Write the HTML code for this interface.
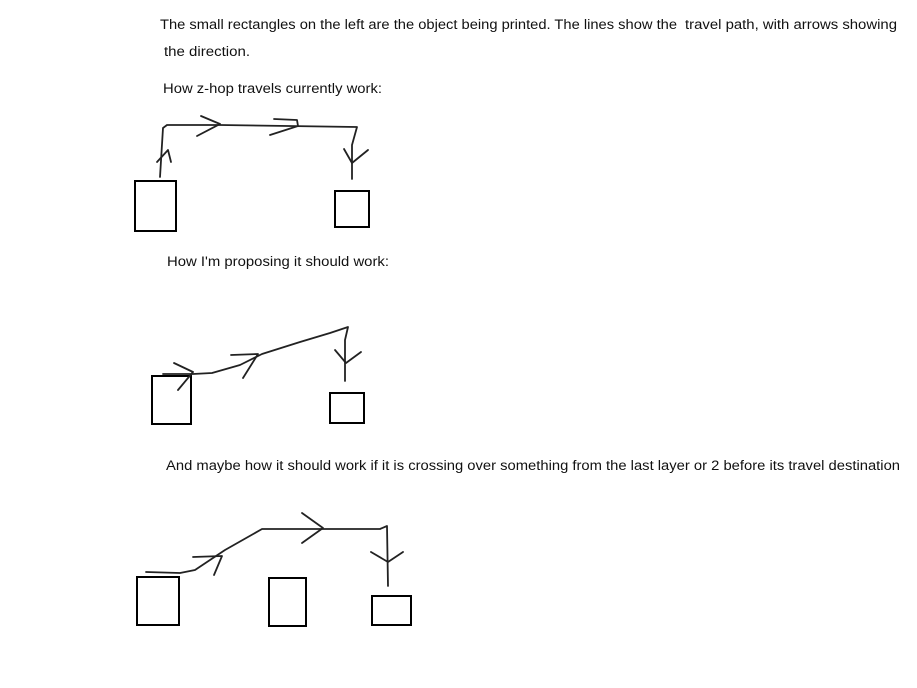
<!DOCTYPE html>
<html><head><style>html,body{margin:0;padding:0;background:#fff;}svg{display:block}</style></head>
<body>
<svg width="917" height="688" viewBox="0 0 917 688" xmlns="http://www.w3.org/2000/svg">
<g font-family="Liberation Sans, sans-serif" font-size="13.5" fill="#111">
<text x="160" y="29" textLength="517" lengthAdjust="spacingAndGlyphs">The small rectangles on the left are the object being printed. The lines show the</text>
<text x="685" y="29" textLength="212" lengthAdjust="spacingAndGlyphs">travel path, with arrows showing</text>
<text x="164" y="56" textLength="86" lengthAdjust="spacingAndGlyphs">the direction.</text>
<text x="163" y="93" textLength="219" lengthAdjust="spacingAndGlyphs">How z-hop travels currently work:</text>
<text x="167" y="266" textLength="222" lengthAdjust="spacingAndGlyphs">How I'm proposing it should work:</text>
<text x="166" y="470" textLength="734" lengthAdjust="spacingAndGlyphs">And maybe how it should work if it is crossing over something from the last layer or 2 before its travel destination</text>
</g>
<g fill="none" stroke="#000" stroke-width="2">
<rect x="135" y="181" width="41" height="50"/>
<rect x="335" y="191" width="34" height="36"/>
<rect x="152" y="376" width="39" height="48"/>
<rect x="330" y="393" width="34" height="30"/>
<rect x="137" y="577" width="42" height="48"/>
<rect x="269" y="578" width="37" height="48"/>
<rect x="372" y="596" width="39" height="29"/>
</g>
<g fill="none" stroke="#222" stroke-width="1.8" stroke-linejoin="round" stroke-linecap="round">
<path d="M160 177 L163 128 L167 125 L220 125 L357 127 L352 145 L352 179"/>
<path d="M157 162 L168 150 L171 162"/>
<path d="M201 116 L220 124 L197 136"/>
<path d="M274 119 L297 120 L298 126 L270 135"/>
<path d="M344 149 L352 163 L368 150"/>
<path d="M163 374 L193 374 L212 373 L240 365 L262 354 L300 342 L330 333 L348 327 L345 340 L345 381"/>
<path d="M174 363 L193 372 L178 390"/>
<path d="M231 355 L258 354 L243 378"/>
<path d="M335 350 L346 363 L361 352"/>
<path d="M146 572 L180 573 L195 570 L225 550 L262 529 L380 529 L387 526 L388 586"/>
<path d="M193 557 L222 556 L214 575"/>
<path d="M302 513 L323 528 L302 543"/>
<path d="M371 552 L388 562 L403 552"/>
</g>
</svg>
</body></html>
